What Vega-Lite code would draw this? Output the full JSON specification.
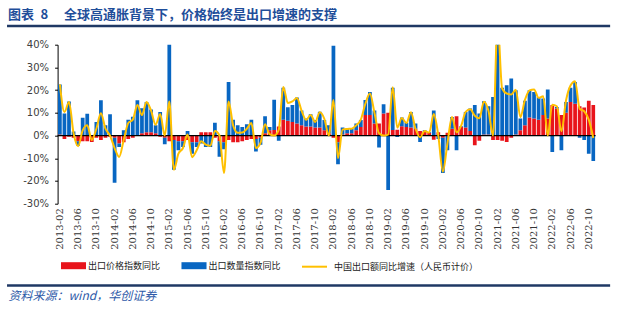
{
  "$schema": "https://vega.github.io/schema/vega-lite/v6.json",
  "autosize": "none",
  "width": 538,
  "height": 159,
  "padding": {"left": 57.6, "top": 44.7, "right": 21.4, "bottom": 106.3},
  "background": "white",
  "config": {
    "view": {"stroke": null},
    "font": "DejaVu Sans",
    "axisY": {
      "labelOverlap": false,
      "domain": true,
      "domainColor": "#000000",
      "domainWidth": 1,
      "ticks": true,
      "tickColor": "#000000",
      "tickWidth": 1,
      "tickSize": 3,
      "grid": false,
      "labelPadding": 6,
      "labelFont": "DejaVu Sans",
      "labelFontSize": 10,
      "labelColor": "#404040"
    }
  },
  "title": {
    "text": "图表\u20028\u3000 全球高通胀背景下，价格始终是出口增速的支撑",
    "anchor": "start",
    "frame": "group",
    "dx": -49.6,
    "dy": 7,
    "offset": 0,
    "baseline": "alphabetic",
    "font": "Noto Sans CJK SC",
    "fontSize": 13,
    "fontWeight": "bold",
    "color": "#1F4E9A"
  },
  "data": {
    "values": [
      {"m": "2013-02", "price": 0.5, "qty": 22.0, "v": 22.5},
      {"m": "2013-03", "price": -1.5, "qty": 9.7, "v": 10.4},
      {"m": "2013-04", "price": -0.5, "qty": 15.0, "v": 14.8},
      {"m": "2013-05", "price": -1.0, "qty": 1.8, "v": 1.0},
      {"m": "2013-06", "price": -2.5, "qty": -2.0, "v": -4.7},
      {"m": "2013-07", "price": -2.5, "qty": 7.8, "v": 2.3},
      {"m": "2013-08", "price": -2.5, "qty": 9.6, "v": 4.5},
      {"m": "2013-09", "price": -2.8, "qty": 0.3, "v": -2.0},
      {"m": "2013-10", "price": -1.0, "qty": 6.0, "v": 3.0},
      {"m": "2013-11", "price": -2.0, "qty": 15.5, "v": 9.8},
      {"m": "2013-12", "price": -1.0, "qty": 4.5, "v": 3.0},
      {"m": "2014-01", "price": -0.5, "qty": 9.4, "v": 0},
      {"m": "2014-02", "price": -1.0, "qty": -19.8, "v": -5.5},
      {"m": "2014-03", "price": -3.5, "qty": -1.5, "v": -9.4},
      {"m": "2014-04", "price": -3.0, "qty": 2.3, "v": -2.0},
      {"m": "2014-05", "price": -1.5, "qty": 7.0, "v": 5.5},
      {"m": "2014-06", "price": -1.0, "qty": 8.3, "v": 7.0},
      {"m": "2014-07", "price": 0.3, "qty": 15.2, "v": 13.5},
      {"m": "2014-08", "price": 1.0, "qty": 11.0, "v": 9.0},
      {"m": "2014-09", "price": 1.5, "qty": 13.3, "v": 14.8},
      {"m": "2014-10", "price": 1.5, "qty": 10.0, "v": 11.0},
      {"m": "2014-11", "price": 1.0, "qty": 3.5, "v": 4.8},
      {"m": "2014-12", "price": -0.5, "qty": 10.4, "v": 9.5},
      {"m": "2015-01", "price": -1.0, "qty": -2.8, "v": 0},
      {"m": "2015-02", "price": -2.5, "qty": 48.0, "v": 15.0},
      {"m": "2015-03", "price": -2.0, "qty": -13.0, "v": -15.0},
      {"m": "2015-04", "price": -2.5, "qty": -4.0, "v": -8.0},
      {"m": "2015-05", "price": -2.5, "qty": -2.5, "v": -5.5},
      {"m": "2015-06", "price": -2.0, "qty": 2.0, "v": 0.5},
      {"m": "2015-07", "price": -3.0, "qty": -5.0, "v": -9.5},
      {"m": "2015-08", "price": -3.0, "qty": -2.0, "v": -6.5},
      {"m": "2015-09", "price": 1.5, "qty": -3.5, "v": -2.5},
      {"m": "2015-10", "price": 1.5, "qty": -5.0, "v": -4.0},
      {"m": "2015-11", "price": 1.5, "qty": -5.0, "v": -4.5},
      {"m": "2015-12", "price": -1.0, "qty": 5.6, "v": 2.0},
      {"m": "2016-01", "price": -2.5, "qty": -6.8, "v": 0},
      {"m": "2016-02", "price": -3.0, "qty": -3.0, "v": -16.5},
      {"m": "2016-03", "price": -2.0, "qty": 23.6, "v": 15.0},
      {"m": "2016-04", "price": -3.0, "qty": 7.0, "v": 4.5},
      {"m": "2016-05", "price": -3.0, "qty": 4.5, "v": 1.2},
      {"m": "2016-06", "price": -2.5, "qty": 3.8, "v": 1.3},
      {"m": "2016-07", "price": -2.0, "qty": 5.0, "v": 3.0},
      {"m": "2016-08", "price": -1.5, "qty": 7.0, "v": 5.5},
      {"m": "2016-09", "price": -1.5, "qty": -5.5, "v": -5.5},
      {"m": "2016-10", "price": -1.0, "qty": -3.0, "v": -3.2},
      {"m": "2016-11", "price": 1.0, "qty": 7.5, "v": 5.0},
      {"m": "2016-12", "price": 2.3, "qty": 1.5, "v": 0.6},
      {"m": "2017-01", "price": 2.5, "qty": 13.3, "v": 0},
      {"m": "2017-02", "price": 4.0, "qty": -2.3, "v": 2.5},
      {"m": "2017-03", "price": 7.0, "qty": 14.0, "v": 21.4},
      {"m": "2017-04", "price": 6.5, "qty": 6.0, "v": 14.3},
      {"m": "2017-05", "price": 6.0, "qty": 7.5, "v": 15.0},
      {"m": "2017-06", "price": 5.3, "qty": 11.5, "v": 16.5},
      {"m": "2017-07", "price": 4.5, "qty": 6.5, "v": 11.0},
      {"m": "2017-08", "price": 4.0, "qty": 3.5, "v": 6.9},
      {"m": "2017-09", "price": 4.0, "qty": 5.4, "v": 9.0},
      {"m": "2017-10", "price": 3.5, "qty": 3.3, "v": 6.0},
      {"m": "2017-11", "price": 3.5, "qty": 7.0, "v": 10.3},
      {"m": "2017-12", "price": 2.3, "qty": 4.5, "v": 7.4},
      {"m": "2018-01", "price": 1.0, "qty": 3.5, "v": 0},
      {"m": "2018-02", "price": -1.0, "qty": 39.5, "v": 15.6},
      {"m": "2018-03", "price": -3.0, "qty": -9.6, "v": -10.0},
      {"m": "2018-04", "price": 0.5, "qty": 3.0, "v": 2.6},
      {"m": "2018-05", "price": 1.0, "qty": 2.0, "v": 2.9},
      {"m": "2018-06", "price": 1.0, "qty": 2.0, "v": 3.0},
      {"m": "2018-07", "price": 2.3, "qty": 3.0, "v": 4.5},
      {"m": "2018-08", "price": 3.8, "qty": 3.0, "v": 7.0},
      {"m": "2018-09", "price": 9.0, "qty": 6.6, "v": 14.0},
      {"m": "2018-10", "price": 9.0, "qty": 10.2, "v": 18.5},
      {"m": "2018-11", "price": 5.3, "qty": 5.7, "v": 10.0},
      {"m": "2018-12", "price": 5.3, "qty": -5.3, "v": 1.0},
      {"m": "2019-01", "price": 9.7, "qty": 4.1, "v": 0},
      {"m": "2019-02", "price": 10.0, "qty": -24.0, "v": 0.4},
      {"m": "2019-03", "price": 2.5, "qty": 18.5, "v": 21.3},
      {"m": "2019-04", "price": 2.6, "qty": -0.6, "v": 3.5},
      {"m": "2019-05", "price": 4.1, "qty": 3.8, "v": 7.7},
      {"m": "2019-06", "price": 3.8, "qty": 1.8, "v": 5.5},
      {"m": "2019-07", "price": 3.5, "qty": 6.9, "v": 10.3},
      {"m": "2019-08", "price": 3.0, "qty": 2.3, "v": 3.0},
      {"m": "2019-09", "price": 2.0, "qty": -2.8, "v": -0.7},
      {"m": "2019-10", "price": 1.6, "qty": 0.7, "v": 2.0},
      {"m": "2019-11", "price": 1.2, "qty": 0.4, "v": 1.3},
      {"m": "2019-12", "price": -1.8, "qty": 11.0, "v": 9.5},
      {"m": "2020-01", "price": 1.5, "qty": -1.5, "v": 0},
      {"m": "2020-02", "price": -1.0, "qty": -15.5, "v": -15.9},
      {"m": "2020-03", "price": 1.2, "qty": -6.5, "v": -3.5},
      {"m": "2020-04", "price": 3.0, "qty": 5.2, "v": 8.2},
      {"m": "2020-05", "price": 8.5, "qty": -6.5, "v": 1.4},
      {"m": "2020-06", "price": 3.8, "qty": 0.3, "v": 4.3},
      {"m": "2020-07", "price": 3.5, "qty": 6.9, "v": 10.4},
      {"m": "2020-08", "price": 2.0, "qty": 9.9, "v": 11.6},
      {"m": "2020-09", "price": -4.3, "qty": 13.4, "v": 8.7},
      {"m": "2020-10", "price": -2.3, "qty": 9.7, "v": 7.6},
      {"m": "2020-11", "price": 0.5, "qty": 14.6, "v": 14.9},
      {"m": "2020-12", "price": 0.5, "qty": 12.4, "v": 10.9},
      {"m": "2021-01", "price": -2.0, "qty": 17.0, "v": 0},
      {"m": "2021-02", "price": -2.0, "qty": 45.0, "v": 50.1},
      {"m": "2021-03", "price": -2.3, "qty": 21.0, "v": 20.7},
      {"m": "2021-04", "price": -2.8, "qty": 22.2, "v": 18.5},
      {"m": "2021-05", "price": -1.0, "qty": 25.1, "v": 18.1},
      {"m": "2021-06", "price": 0.5, "qty": 19.5, "v": 20.2},
      {"m": "2021-07", "price": 2.3, "qty": 5.2, "v": 8.1},
      {"m": "2021-08", "price": 4.5, "qty": 10.8, "v": 15.7},
      {"m": "2021-09", "price": 7.9, "qty": 12.1, "v": 19.9},
      {"m": "2021-10", "price": 7.5, "qty": 11.7, "v": 20.3},
      {"m": "2021-11", "price": 7.0, "qty": 10.0, "v": 16.6},
      {"m": "2021-12", "price": 9.0, "qty": 7.3, "v": 17.3},
      {"m": "2022-01", "price": 7.5, "qty": 12.8, "v": 0},
      {"m": "2022-02", "price": 13.4, "qty": -7.2, "v": 13.6},
      {"m": "2022-03", "price": 11.9, "qty": 0.7, "v": 12.9},
      {"m": "2022-04", "price": 9.0, "qty": -6.5, "v": 1.9},
      {"m": "2022-05", "price": 10.0, "qty": 4.8, "v": 15.3},
      {"m": "2022-06", "price": 14.8, "qty": 6.2, "v": 22.0},
      {"m": "2022-07", "price": 14.0, "qty": 9.6, "v": 23.9},
      {"m": "2022-08", "price": 12.9, "qty": -1.0, "v": 11.8},
      {"m": "2022-09", "price": 12.3, "qty": -2.0, "v": 10.7},
      {"m": "2022-10", "price": 15.3, "qty": -8.0, "v": 7.0},
      {"m": "2022-11", "price": 13.4, "qty": -11.2, "v": -1.1}
    ]
  },
  "resolve": {"scale": {"x": "independent"}},
  "layer": [
    {
      "layer": [
        {
          "transform": [{"fold": ["price", "qty"], "as": ["series", "pct"]}],
          "mark": {"type": "bar", "clip": true},
          "encoding": {
            "x": {
              "field": "m",
              "type": "ordinal",
              "scale": {"paddingInner": 0.18, "paddingOuter": 0.09},
              "axis": {
                "values": ["2013-02", "2013-06", "2013-10", "2014-02", "2014-06", "2014-10", "2015-02", "2015-06", "2015-10", "2016-02", "2016-06", "2016-10", "2017-02", "2017-06", "2017-10", "2018-02", "2018-06", "2018-10", "2019-02", "2019-06", "2019-10", "2020-02", "2020-06", "2020-10", "2021-02", "2021-06", "2021-10", "2022-02", "2022-06", "2022-10"],
                "labelAngle": 270,
                "labelFont": "DejaVu Serif",
                "labelFontSize": 10,
                "labelColor": "#333333",
                "labelPadding": 4,
                "labelOverlap": false,
                "ticks": false,
                "domain": false,
                "title": "资料来源：wind，华创证券",
                "titleX": -49.6,
                "titleY": 96,
                "titleAlign": "left",
                "titleBaseline": "alphabetic",
                "titleFont": "Noto Sans CJK SC",
                "titleFontSize": 12,
                "titleFontStyle": "italic",
                "titleFontWeight": "normal",
                "titleColor": "#2E5AA8"
              }
            },
            "y": {
              "field": "pct",
              "type": "quantitative",
              "stack": "zero",
              "scale": {"domain": [-30, 40], "nice": false},
              "axis": {"title": null, "values": [-30, -20, -10, 0, 10, 20, 30, 40], "labelExpr": "datum.value + '%'", "labelOverlap": false, "domain": true, "ticks": true}
            },
            "color": {
              "field": "series",
              "type": "nominal",
              "scale": {"domain": ["price", "qty"], "range": ["#E8141B", "#0866C2"]},
              "legend": {
                "title": null,
                "orient": "none",
                "legendX": 8.9,
                "legendY": 214,
                "direction": "horizontal",
                "padding": 0,
                "symbolType": "M-1.79,-0.5H1.79V0.5H-1.79Z",
                "symbolSize": 196,
                "symbolStrokeWidth": 0,
                "labelOffset": 7.5,
                "columnPadding": 20.5,
                "labelFont": "Noto Sans CJK SC",
                "labelFontSize": 9,
                "labelColor": "#222222",
                "labelExpr": "datum.label == 'price' ? '出口价格指数同比' : '出口数量指数同比'"
              }
            },
            "order": {"field": "series", "sort": "ascending"}
          }
        },
        {
          "data": {"values": [{}]},
          "mark": {"type": "rule", "color": "#000000", "strokeWidth": 1.2},
          "encoding": {
            "y": {
              "datum": 0,
              "type": "quantitative",
              "scale": {"domain": [-30, 40], "nice": false},
              "axis": {"title": null, "values": [-30, -20, -10, 0, 10, 20, 30, 40], "labelExpr": "datum.value + '%'", "labelOverlap": false, "domain": true, "ticks": true}
            }
          }
        },
        {
          "mark": {"type": "line", "clip": true, "strokeWidth": 2, "interpolate": "monotone"},
          "encoding": {
            "x": {"field": "m", "type": "ordinal"},
            "y": {
              "field": "v",
              "type": "quantitative",
              "scale": {"domain": [-30, 40], "nice": false},
              "axis": {"title": null, "values": [-30, -20, -10, 0, 10, 20, 30, 40], "labelExpr": "datum.value + '%'", "labelOverlap": false, "domain": true, "ticks": true}
            },
            "stroke": {
              "datum": "中国出口额同比增速（人民币计价）",
              "scale": {"range": ["#FFC000"]},
              "legend": {
                "title": null,
                "orient": "none",
                "legendX": 248.9,
                "legendY": 214,
                "direction": "horizontal",
                "padding": 0,
                "symbolType": "M-1.79,0H1.79",
                "symbolSize": 196,
                "symbolStrokeWidth": 2,
                "labelOffset": 11.5,
                "labelFont": "Noto Sans CJK SC",
                "labelFontSize": 9,
                "labelColor": "#222222"
              }
            }
          }
        }
      ]
    },
    {
      "data": {"values": [{}]},
      "mark": {"type": "rule", "color": "#1F3864", "strokeWidth": 2.5},
      "encoding": {
        "x": {"datum": -0.094, "type": "quantitative", "scale": {"domain": [0, 1], "nice": false, "zero": false}, "axis": null},
        "x2": {"datum": 1.027},
        "y": {
          "datum": 48.2,
          "type": "quantitative",
          "scale": {"domain": [-30, 40], "nice": false},
          "axis": {"title": null, "values": [-30, -20, -10, 0, 10, 20, 30, 40], "labelExpr": "datum.value + '%'", "labelOverlap": false, "domain": true, "ticks": true}
        }
      }
    },
    {
      "data": {"values": [{}]},
      "mark": {"type": "rule", "color": "#1F3864", "strokeWidth": 2.5},
      "encoding": {
        "x": {"datum": -0.094, "type": "quantitative", "scale": {"domain": [0, 1], "nice": false, "zero": false}, "axis": null},
        "x2": {"datum": 1.027},
        "y": {
          "datum": -66.0,
          "type": "quantitative",
          "scale": {"domain": [-30, 40], "nice": false},
          "axis": {"title": null, "values": [-30, -20, -10, 0, 10, 20, 30, 40], "labelExpr": "datum.value + '%'", "labelOverlap": false, "domain": true, "ticks": true}
        }
      }
    }
  ]
}
